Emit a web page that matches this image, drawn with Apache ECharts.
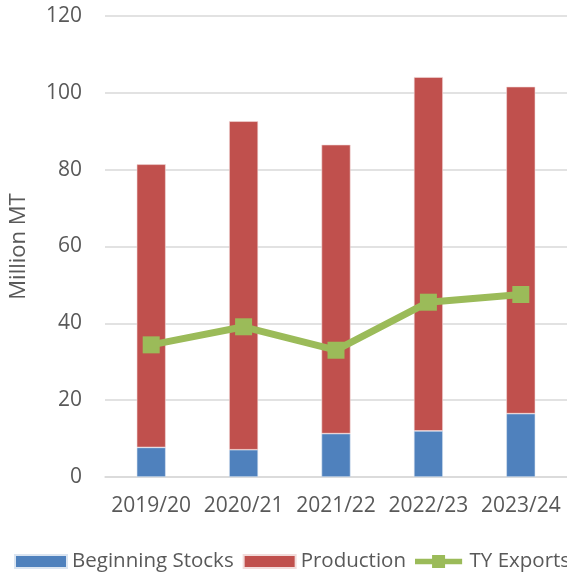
<!DOCTYPE html>
<html>
<head>
<meta charset="utf-8">
<script src="https://cdn.jsdelivr.net/npm/echarts@6/dist/echarts.min.js"></script>
<style>
html,body{margin:0;padding:0;background:#fff;}
#chart{width:567px;height:575px;}
</style>
</head>
<body>
<div id="chart"></div>
<script>
var categories = ['2019/20', '2020/21', '2021/22', '2022/23', '2023/24'];
var beginningStocks = [7.7, 7.1, 11.3, 12.0, 16.5];
var production = [73.7, 85.5, 75.2, 92.1, 85.1];
var tyExports = [34.4, 39.1, 33.0, 45.5, 47.5];
var yTicks = [0, 20, 40, 60, 80, 100, 120];

var FONT = 'Open Sans';
var TXT = '#595959';
var lineIcon = 'path://M0,4.5 L21,4.5 L21,0 L37,0 L37,4.5 L58,4.5 L58,11.5 L37,11.5 L37,16 L21,16 L21,11.5 L0,11.5 Z';
var chart = echarts.init(document.getElementById('chart'), null, {renderer: 'canvas'});
chart.setOption({
  animation: false,
  backgroundColor: '#ffffff',
  textStyle: {fontFamily: FONT},
  grid: {left: 101.5, width: 470, top: 16, height: 461, containLabel: false},
  legend: {
    left: 9, top: 546, width: 800,
    itemWidth: 52, itemHeight: 13, itemGap: 9,
    textStyle: {fontFamily: FONT, fontSize: 20.5, color: TXT},
    data: [
      {name: 'Beginning Stocks', icon: 'rect'},
      {name: 'Production', icon: 'rect'},
      {name: 'TY Exports', icon: lineIcon, itemStyle: {color: '#9BBB59'}}
    ]
  },
  xAxis: {
    type: 'category',
    data: categories,
    axisLine: {show: true, lineStyle: {color: '#d9d9d9', width: 1.5}},
    axisTick: {show: false},
    axisLabel: {fontFamily: FONT, fontSize: 21, color: TXT, margin: 19, interval: 0}
  },
  yAxis: {
    type: 'value',
    min: yTicks[0], max: yTicks[yTicks.length - 1], interval: 20,
    name: 'Million MT',
    nameLocation: 'middle',
    nameGap: 75,
    nameTextStyle: {fontFamily: FONT, fontSize: 22, color: TXT},
    axisLine: {show: false},
    axisTick: {show: false},
    axisLabel: {fontFamily: FONT, fontSize: 21, color: TXT, margin: 23},
    splitLine: {lineStyle: {color: '#d9d9d9', width: 1.5}}
  },
  series: [
    {
      name: 'Beginning Stocks', type: 'bar', stack: 'total',
      data: beginningStocks, barWidth: 29,
      itemStyle: {color: '#4F81BD', borderColor: '#dbe5f1', borderWidth: 0.6}
    },
    {
      name: 'Production', type: 'bar', stack: 'total',
      data: production, barWidth: 29,
      itemStyle: {color: '#C0504D', borderColor: '#f2dcdb', borderWidth: 0.6}
    },
    {
      name: 'TY Exports', type: 'line',
      data: tyExports,
      symbol: 'rect', symbolSize: 17,
      lineStyle: {color: '#9BBB59', width: 7},
      itemStyle: {color: '#9BBB59'},
      z: 5
    }
  ]
});
</script>
</body>
</html>
